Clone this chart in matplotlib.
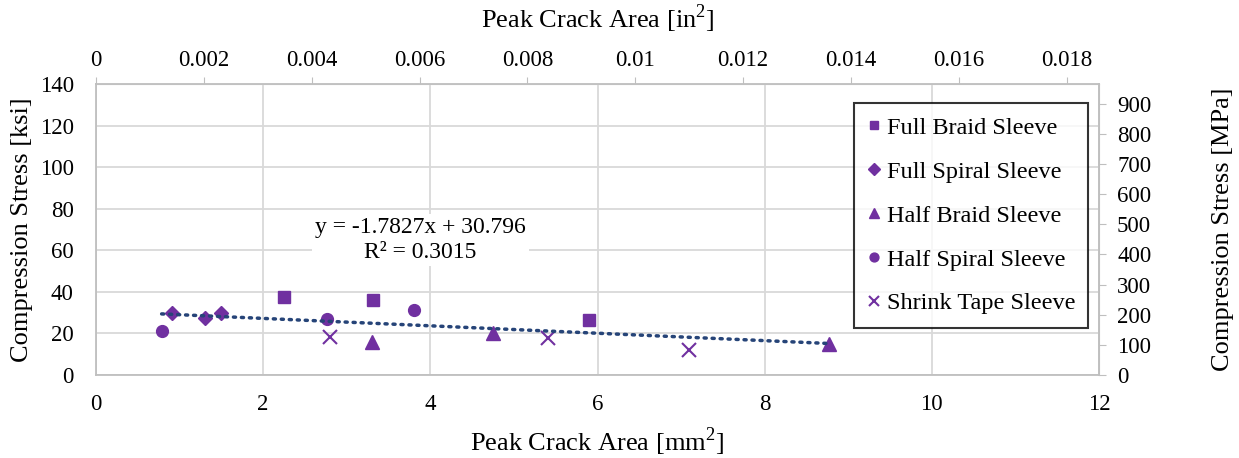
import matplotlib.pyplot as plt
import numpy as np

plt.rcParams['font.family'] = ['Liberation Serif', 'DejaVu Serif']
plt.rcParams['mathtext.fontset'] = 'custom'
plt.rcParams['mathtext.rm'] = 'Liberation Serif'

# data (mm^2, ksi)
full_braid_x = [2.25, 3.31, 5.90]
full_braid_y = [37.5, 36.2, 26.6]
full_spiral_x = [0.905, 1.30, 1.49]
full_spiral_y = [29.8, 27.4, 29.8]
half_braid_x = [3.30, 4.75, 8.77]
half_braid_y = [16.1, 20.4, 15.0]
half_spiral_x = [0.785, 2.765, 3.80]
half_spiral_y = [21.3, 27.0, 31.2]
shrink_x = [2.80, 5.41, 7.10]
shrink_y = [18.5, 17.7, 12.1]

slope = -1.7827
intercept = 30.796
r2 = 0.3015

MM2_PER_IN2 = 645.16
MPA_PER_KSI = 6.89476

PURPLE = '#7030A0'
TREND = '#264478'
GRID = '#D9D9D9'
SPINE = '#BFBFBF'

fig = plt.figure(figsize=(12.39, 4.58), dpi=100)
ax = fig.add_axes([0.0775, 0.1812, 0.8095, 0.6354])

ax.plot(full_braid_x, full_braid_y, 's', color=PURPLE, ms=8, label='Full Braid Sleeve', zorder=3)
ax.plot(full_spiral_x, full_spiral_y, 'D', color=PURPLE, ms=7.5, label='Full Spiral Sleeve', zorder=3)
ax.plot(half_braid_x, half_braid_y, '^', color=PURPLE, ms=10.5, label='Half Braid Sleeve', zorder=3)
ax.plot(half_spiral_x, half_spiral_y, 'o', color=PURPLE, ms=8.5, label='Half Spiral Sleeve', zorder=3)
ax.plot(shrink_x, shrink_y, 'x', color=PURPLE, ms=10, mew=1.5, label='Shrink Tape Sleeve', zorder=3)

# linear trendline across all points
all_x = full_braid_x + full_spiral_x + half_braid_x + half_spiral_x + shrink_x
tx = np.array([min(all_x), max(all_x)])
ax.plot(tx, slope * tx + intercept, color=TREND, lw=2.5, ls=(0, (0.6, 1.7)),
        dash_capstyle='round', zorder=4)

ax.text(3.88, 65, f'y = {slope}x + {intercept}\nR\u00b2 = {r2}', ha='center', va='center',
        fontsize=17, linespacing=1.25,
        bbox=dict(facecolor='white', edgecolor='none', pad=2), zorder=5)

ax.set_xlim(0, 12)
ax.set_ylim(0, 140)
ax.set_xticks(np.arange(0, 13, 2))
ax.set_yticks(np.arange(0, 141, 20))
ax.grid(True, color=GRID, lw=1.3)
ax.set_axisbelow(True)
ax.tick_params(axis='x', length=0, labelsize=16.5, pad=14)
ax.tick_params(axis='y', length=0, labelsize=16.5, pad=16)
for s in ['left', 'bottom', 'top', 'right']:
    ax.spines[s].set_color(SPINE)
    ax.spines[s].set_linewidth(1.3)

ax.set_xlabel('Peak Crack Area [mm$^2$]', fontsize=19, labelpad=7)
ax.set_ylabel('Compression Stress [ksi]', fontsize=19, labelpad=5)

top = ax.secondary_xaxis('top', functions=(lambda v: v / MM2_PER_IN2, lambda v: v * MM2_PER_IN2))
top.set_xticks(np.arange(0, 0.0181, 0.002))
top.set_xticklabels([f'{v:g}' for v in np.round(np.arange(0, 0.0181, 0.002), 3)])
top.tick_params(length=5, color=SPINE, labelsize=16.5, pad=4)
top.spines['top'].set_color(SPINE)
top.set_xlabel('Peak Crack Area [in$^2$]', fontsize=19, labelpad=16)

right = ax.secondary_yaxis('right', functions=(lambda v: v * MPA_PER_KSI, lambda v: v / MPA_PER_KSI))
right.set_yticks(np.arange(0, 901, 100))
right.tick_params(length=5, color=SPINE, labelsize=16.5, pad=8)
right.spines['right'].set_color(SPINE)
right.set_ylabel('Compression Stress [MPa]', fontsize=19, labelpad=44)

leg = ax.legend(loc='upper right', bbox_to_anchor=(0.9895, 0.933), fontsize=17.5,
                frameon=True, fancybox=False, edgecolor='black', markerscale=0.75,
                handlelength=0.6, handletextpad=0.2, labelspacing=0.9, borderpad=0.55,
                borderaxespad=0)
leg.get_frame().set_linewidth(1.5)

fig.savefig('out.png', dpi=100)
